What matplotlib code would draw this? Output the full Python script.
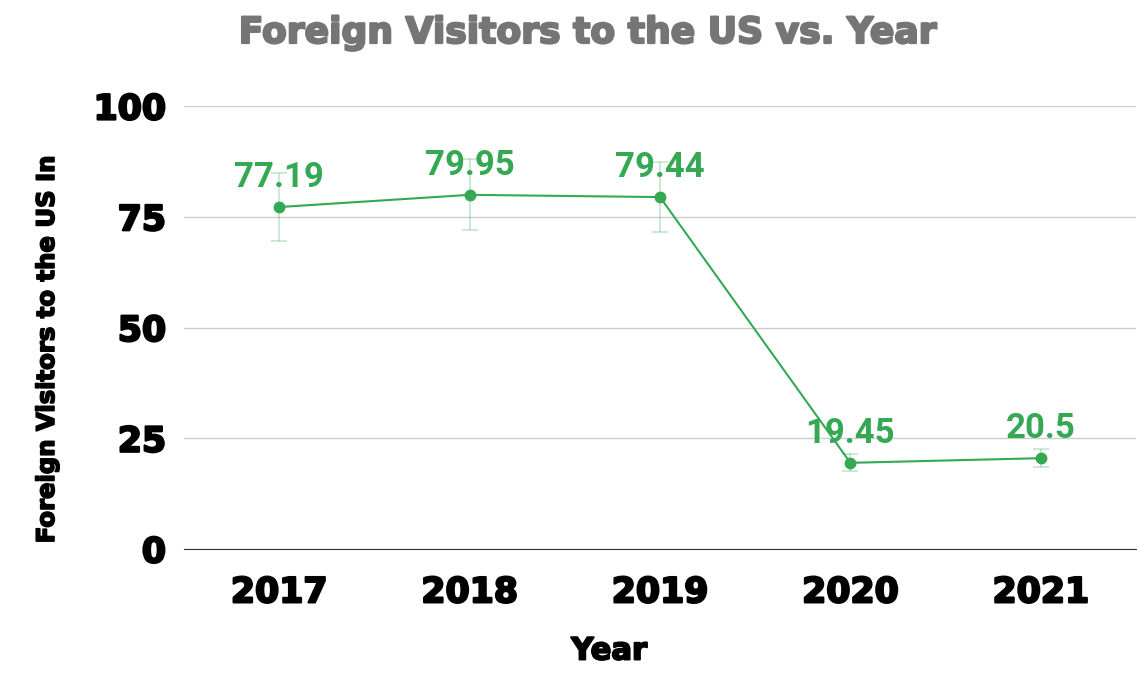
import matplotlib.pyplot as plt
import matplotlib.patheffects as pe
import numpy as np

years = ["2017", "2018", "2019", "2020", "2021"]
visitors = [77.19, 79.95, 79.44, 19.45, 20.5]
err_pct = 0.10  # error bars look like +/-10% of each value
y_ticks = [0, 25, 50, 75, 100]

green = "#34a853"
heavy = {"family": "DejaVu Sans", "weight": "bold"}


def fat(color, w=1.6):
    # thicken DejaVu bold so it reads closer to a black-weight face
    return [pe.withStroke(linewidth=w, foreground=color)]


fig = plt.figure(figsize=(11.37, 6.79), dpi=100)
ax = fig.add_axes([184 / 1137, 130 / 679, 952 / 1137, 443 / 679])

x = np.arange(len(years))
errs = [v * err_pct for v in visitors]
ax.errorbar(x, visitors, yerr=errs, fmt="none", ecolor=green, alpha=0.3,
            elinewidth=1.2, capsize=6, capthick=1.2, zorder=2)
ax.plot(x, visitors, "-o", color=green, lw=1.5, ms=7.5, zorder=3)

for xi, v in zip(x, visitors):
    ax.annotate(f"{v:g}", (xi, v), xytext=(0, 9.5), textcoords="offset points",
                ha="center", va="bottom", color=green, fontsize=25,
                family="Roboto", weight="bold", zorder=4)

ax.set_xlim(-0.5, len(years) - 0.5)
ax.set_ylim(0, 100)
ax.set_yticks(y_ticks)
ax.set_xticks(x)
ax.set_xticklabels(years, fontsize=25, path_effects=fat("black"), **heavy)
ax.set_yticklabels([str(t) for t in y_ticks], fontsize=25,
                   path_effects=fat("black"), **heavy)
ax.tick_params(length=0)
ax.tick_params(axis="x", pad=19)
ax.tick_params(axis="y", pad=13)

ax.grid(axis="y", color="#cccccc", lw=1)
ax.set_axisbelow(True)
for s in ["top", "right", "left"]:
    ax.spines[s].set_visible(False)
ax.spines["bottom"].set_color("#333333")

fig.text(609 / 1137, 1 - 651 / 679, "Year", ha="center", va="center",
         fontsize=22, path_effects=fat("black", 1.4), **heavy)
fig.text(47 / 1137, 1 - 350 / 679, "Foreign Visitors to the US In", rotation=90,
         ha="center", va="center", fontsize=17.5,
         path_effects=fat("black", 1.2), **heavy)
fig.text(588 / 1137, 1 - 33 / 679, "Foreign Visitors to the US vs. Year",
         ha="center", va="center", fontsize=26, color="#757575",
         path_effects=fat("#757575", 1.6), **heavy)

fig.savefig("out.png", dpi=100)
